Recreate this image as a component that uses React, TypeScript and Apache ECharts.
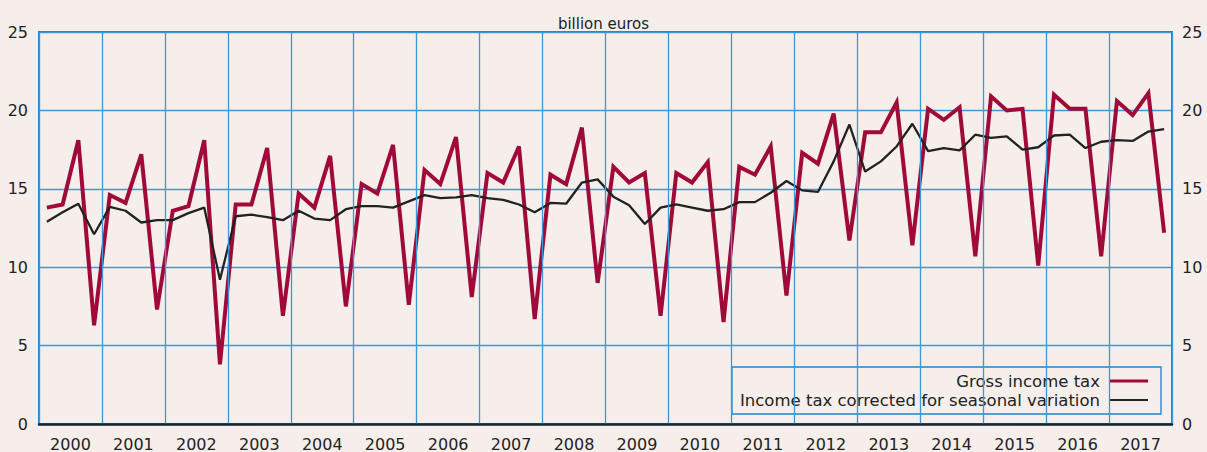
import React, { useEffect, useRef } from "react";
import * as echarts from "echarts";

const years = ["2000","2001","2002","2003","2004","2005","2006","2007","2008","2009","2010","2011","2012","2013","2014","2015","2016","2017"];

const grossIncomeTax = [
  13.8, 14.0, 18.1, 6.3,
  14.6, 14.1, 17.2, 7.3,
  13.6, 13.9, 18.1, 3.8,
  14.0, 14.0, 17.6, 6.9,
  14.7, 13.8, 17.1, 7.5,
  15.3, 14.7, 17.8, 7.6,
  16.2, 15.3, 18.3, 8.1,
  16.0, 15.4, 17.7, 6.7,
  15.9, 15.3, 18.9, 9.0,
  16.4, 15.4, 16.0, 6.9,
  16.0, 15.4, 16.7, 6.5,
  16.4, 15.9, 17.7, 8.2,
  17.3, 16.6, 19.8, 11.7,
  18.6, 18.6, 20.5, 11.4,
  20.1, 19.4, 20.2, 10.7,
  20.9, 20.0, 20.1, 10.1,
  21.0, 20.1, 20.1, 10.7,
  20.6, 19.7, 21.1, 12.2,
];

const seasonallyAdjusted = [
  12.9, 13.5, 14.05, 12.1,
  13.85, 13.6, 12.85, 13.0,
  13.0, 13.45, 13.8, 9.2,
  13.25, 13.35, 13.2, 13.0,
  13.6, 13.1, 13.0, 13.7,
  13.9, 13.9, 13.8, 14.2,
  14.6, 14.4, 14.45, 14.6,
  14.4, 14.3, 14.0, 13.5,
  14.1, 14.05, 15.4, 15.6,
  14.5, 13.95, 12.75, 13.8,
  14.0, 13.8, 13.6, 13.7,
  14.15, 14.15, 14.75, 15.5,
  14.9, 14.8, 16.75, 19.1,
  16.1, 16.75, 17.7, 19.15,
  17.4, 17.6, 17.45, 18.45,
  18.25, 18.35, 17.5, 17.65,
  18.4, 18.45, 17.6, 18.0,
  18.1, 18.05, 18.65, 18.8,
];

const yTicks = [0, 5, 10, 15, 20, 25];
const unitLabel = "billion euros";
const legendNames = ["Gross income tax", "Income tax corrected for seasonal variation"];

const BG = "#f5eeeb";
const BLUE = "#1a86cc";
const GRID_BLUE = "#3a9ad9";
const RED = "#a00a3a";
const BLACK = "#222222";
const FONT = "DejaVu Sans";

export default function App() {
  const ref = useRef<HTMLDivElement>(null);
  useEffect(() => {
    if (!ref.current) return;
    const chart = echarts.init(ref.current, undefined, { renderer: "svg" });
    const toPoints = (arr: number[]) => arr.map((v, i) => [i + 0.5, v]);
    const yAxisBase = {
      type: "value" as const,
      min: yTicks[0],
      max: yTicks[yTicks.length - 1],
      interval: 5,
    };
    chart.setOption({
      animation: false,
      backgroundColor: BG,
      textStyle: { fontFamily: FONT },
      title: {
        text: unitLabel,
        left: "center",
        top: 11,
        textStyle: { fontSize: 15, fontWeight: "normal", color: BLACK, fontFamily: FONT },
      },
      grid: {
        left: 39,
        right: 35,
        top: 32,
        bottom: 27,
        show: true,
        backgroundColor: BG,
        borderColor: BLUE,
        borderWidth: 2,
      },
      xAxis: [
        {
          type: "category",
          data: years,
          boundaryGap: true,
          axisTick: { show: false },
          axisLine: { show: true, lineStyle: { color: "#1c2530", width: 2.5 } },
          axisLabel: { color: BLACK, fontSize: 16, margin: 12, fontFamily: FONT, interval: 0 },
          splitLine: { show: true, interval: 0, lineStyle: { color: GRID_BLUE, width: 1.3 } },
          z: 5,
        },
        {
          type: "value",
          min: 0,
          max: years.length * 4,
          show: false,
        },
      ],
      yAxis: [
        {
          ...yAxisBase,
          position: "left",
          axisLine: { show: true, lineStyle: { color: BLUE, width: 2 } },
          axisTick: { show: false },
          axisLabel: { color: BLACK, fontSize: 16, margin: 11, fontFamily: FONT },
          splitLine: { show: true, lineStyle: { color: GRID_BLUE, width: 1.3 } },
        },
        {
          ...yAxisBase,
          position: "right",
          axisLine: { show: true, lineStyle: { color: BLUE, width: 2 } },
          axisTick: { show: false },
          axisLabel: { color: BLACK, fontSize: 16, margin: 10, fontFamily: FONT },
          splitLine: { show: false },
        },
      ],
      series: [
        {
          name: legendNames[0],
          type: "line",
          xAxisIndex: 1,
          yAxisIndex: 0,
          data: toPoints(grossIncomeTax),
          showSymbol: false,
          symbol: "none",
          lineStyle: { color: RED, width: 4, join: "miter" },
          z: 3,
        },
        {
          name: legendNames[1],
          type: "line",
          xAxisIndex: 1,
          yAxisIndex: 0,
          data: toPoints(seasonallyAdjusted),
          showSymbol: false,
          symbol: "none",
          lineStyle: { color: BLACK, width: 2.3 },
          z: 4,
        },
      ],
      graphic: [
        {
          type: "group",
          z: 100,
          children: [
            {
              type: "rect",
              shape: { x: 732, y: 367, width: 429, height: 47 },
              style: { fill: BG, stroke: BLUE, lineWidth: 1.3 },
            },
            {
              type: "text",
              x: 1100,
              y: 381,
              style: {
                text: legendNames[0],
                align: "right",
                verticalAlign: "middle",
                fontFamily: FONT,
                fontSize: 16.5,
                fill: BLACK,
              },
            },
            {
              type: "text",
              x: 1100,
              y: 400,
              style: {
                text: legendNames[1],
                align: "right",
                verticalAlign: "middle",
                fontFamily: FONT,
                fontSize: 16.5,
                fill: BLACK,
              },
            },
            {
              type: "line",
              shape: { x1: 1109, y1: 381, x2: 1148, y2: 381 },
              style: { stroke: RED, lineWidth: 3 },
            },
            {
              type: "line",
              shape: { x1: 1109, y1: 400, x2: 1148, y2: 400 },
              style: { stroke: BLACK, lineWidth: 2 },
            },
          ],
        },
      ],
    });
    return () => chart.dispose();
  }, []);
  return (
    <div
      ref={ref}
      style={{ position: "fixed", left: 0, top: 0, width: 1207, height: 452 }}
    />
  );
}
